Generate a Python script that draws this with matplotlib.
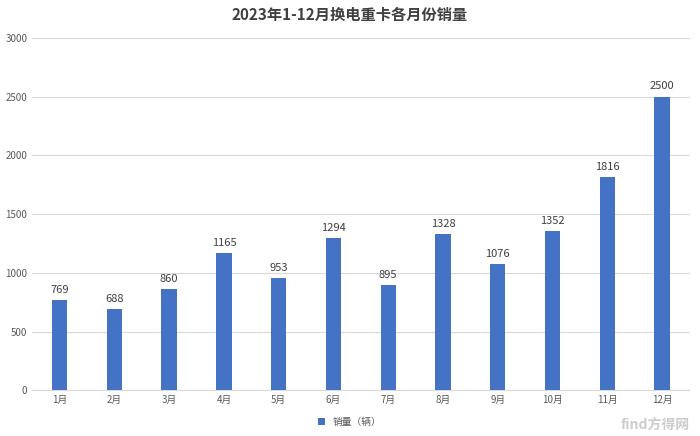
import matplotlib.pyplot as plt

plt.rcParams['font.family'] = ['Noto Sans CJK SC', 'DejaVu Sans']

months = [f"{i}月" for i in range(1, 13)]
sales = [769, 688, 860, 1165, 953, 1294, 895, 1328, 1076, 1352, 1816, 2500]

fig = plt.figure(figsize=(7, 4.36), dpi=100)
ax = fig.add_axes([0.046, 0.105, 0.939, 0.808])

x = range(len(months))
ax.bar(x, sales, width=0.28, color="#4472C4", label="销量（辆）", zorder=3)
for xi, v in zip(x, sales):
    ax.text(xi, v + 45, str(v), ha="center", va="bottom", fontsize=8, color="#404040")

ax.set_xlim(-0.5, 11.5)
ax.set_ylim(0, 3000)
ax.set_yticks(range(0, 3001, 500))
ax.set_xticks(list(x))
ax.set_xticklabels(months)
ax.tick_params(axis="both", length=0, labelsize=7, colors="#595959")
ax.grid(axis="y", color="#D9D9D9", linewidth=0.8, zorder=0)
for s in ["top", "right", "left"]:
    ax.spines[s].set_visible(False)
ax.spines["bottom"].set_color("#D9D9D9")

fig.suptitle("2023年1-12月换电重卡各月份销量", y=0.985, fontsize=11,
             fontweight="bold", color="#404040")
fig.legend(loc="lower center", bbox_to_anchor=(0.5, 0.0), frameon=False,
           fontsize=7, handlelength=0.7, handleheight=0.7,
           labelcolor="#595959")
fig.text(0.985, 0.01, "find方得网", ha="right", va="bottom", fontsize=10,
         color="#CCCCCC", fontweight="bold")

fig.savefig("out.png", dpi=100)
